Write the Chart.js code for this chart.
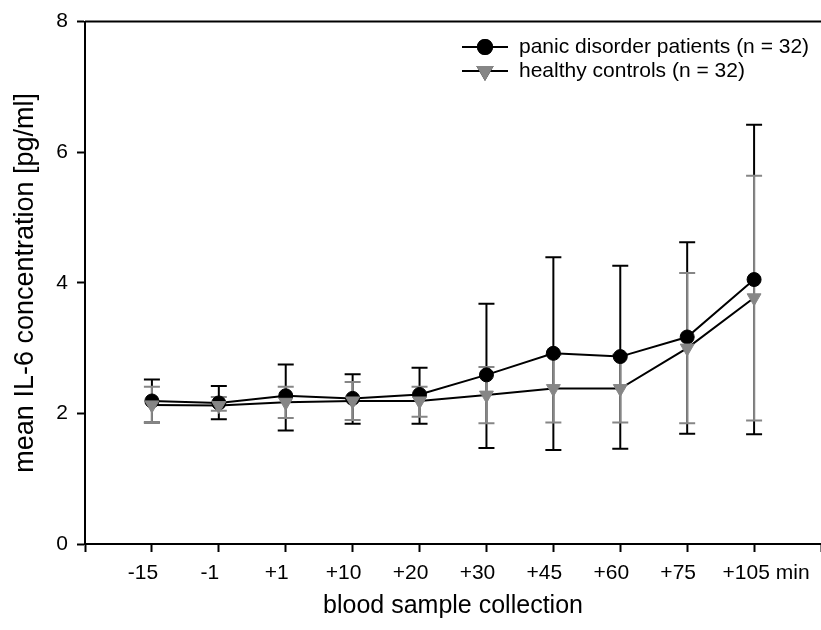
<!DOCTYPE html>
<html>
<head>
<meta charset="utf-8">
<script src="https://cdn.jsdelivr.net/npm/chart.js@4"></script>
<style>
  html, body { margin: 0; padding: 0; background: #fff; }
  #wrap { width: 821px; height: 630px; }
</style>
</head>
<body>
<div id="wrap"><canvas id="chart" width="821" height="630"></canvas></div>
<script>
// blood sample collection times
const sampleLabels = ["-15", "-1", "+1", "+10", "+20", "+30", "+45", "+60", "+75", "+105 min"];

// panic disorder patients (n = 32)
const patientsMean = [2.19, 2.16, 2.27, 2.23, 2.29, 2.59, 2.92, 2.87, 3.17, 4.05];
const patientsHigh = [2.52, 2.42, 2.75, 2.60, 2.70, 3.68, 4.39, 4.26, 4.62, 6.42];
const patientsLow  = [1.86, 1.91, 1.74, 1.84, 1.84, 1.47, 1.44, 1.46, 1.69, 1.68];

// healthy controls (n = 32)
const controlsMean = [2.13, 2.12, 2.17, 2.19, 2.19, 2.28, 2.38, 2.38, 3.00, 3.77];
const controlsHigh = [2.41, 2.25, 2.41, 2.48, 2.41, 2.71, 2.90, 2.90, 4.15, 5.64];
const controlsLow  = [1.86, 2.04, 1.93, 1.90, 1.95, 1.85, 1.86, 1.86, 1.85, 1.89];

const yTicks = [0, 2, 4, 6, 8];

const FONT = 'Arial, "Liberation Sans", sans-serif';
const GRAY = "#868686";

const toPoints = vals => vals.map((v, i) => ({ x: i + 1, y: v }));

const errorBars = {
  id: "errorBars",
  beforeDatasetsDraw(chart) {
    const { ctx, scales: { x, y } } = chart;
    const groups = [
      { high: patientsHigh, low: patientsLow, color: "#000" },
      { high: controlsHigh, low: controlsLow, color: GRAY },
    ];
    ctx.save();
    groups.forEach(g => {
      ctx.strokeStyle = g.color;
      ctx.lineWidth = 2;
      g.high.forEach((hi, i) => {
        const px = x.getPixelForValue(i + 1);
        const pHi = y.getPixelForValue(hi);
        const pLo = y.getPixelForValue(g.low[i]);
        ctx.beginPath();
        ctx.moveTo(px, pHi); ctx.lineTo(px, pLo);
        ctx.moveTo(px - 8, pHi); ctx.lineTo(px + 8, pHi);
        ctx.moveTo(px - 8, pLo); ctx.lineTo(px + 8, pLo);
        ctx.stroke();
      });
    });
    ctx.restore();
  },
};

const frameAndLegend = {
  id: "frameAndLegend",
  afterDraw(chart) {
    const { ctx, chartArea } = chart;
    ctx.save();
    // top frame line
    ctx.strokeStyle = "#000";
    ctx.lineWidth = 2;
    ctx.beginPath();
    ctx.moveTo(chartArea.left, chartArea.top);
    ctx.lineTo(chartArea.right, chartArea.top);
    ctx.stroke();

    // legend
    const rows = [
      { text: "panic disorder patients (n = 32)", y: 47, ds: chart.data.datasets[1] },
      { text: "healthy controls (n = 32)", y: 71, ds: chart.data.datasets[0] },
    ];
    ctx.font = "21px " + FONT;
    ctx.textBaseline = "middle";
    rows.forEach(r => {
      ctx.strokeStyle = "#000";
      ctx.lineWidth = 2;
      ctx.beginPath();
      ctx.moveTo(462, r.y); ctx.lineTo(508, r.y);
      ctx.stroke();
      Chart.helpers.drawPoint(ctx, {
        pointStyle: r.ds.pointStyle,
        rotation: r.ds.pointRotation || 0,
        radius: r.ds.pointRadius,
        borderWidth: 1,
      }, 485, r.y);
      ctx.fillStyle = r.ds.pointBackgroundColor;
      ctx.strokeStyle = r.ds.pointBorderColor;
      ctx.fill();
      ctx.stroke();
      ctx.fillStyle = "#000";
      ctx.fillText(r.text, 519, r.y);
    });
    ctx.restore();
  },
};

new Chart(document.getElementById("chart").getContext("2d"), {
  type: "line",
  data: {
    datasets: [
      {
        label: "healthy controls (n = 32)",
        data: toPoints(controlsMean),
        borderColor: "#000",
        borderWidth: 2,
        pointStyle: "triangle",
        pointRotation: 180,
        pointRadius: 8,
        pointBackgroundColor: GRAY,
        pointBorderColor: GRAY,
        pointBorderWidth: 1,
        order: 0,
      },
      {
        label: "panic disorder patients (n = 32)",
        data: toPoints(patientsMean),
        borderColor: "#000",
        borderWidth: 2,
        pointStyle: "circle",
        pointRadius: 7,
        pointBackgroundColor: "#000",
        pointBorderColor: "#000",
        pointBorderWidth: 1,
        order: 1,
      },
    ],
  },
  options: {
    responsive: false,
    animation: false,
    layout: { autoPadding: false, padding: { top: 16, right: 0, left: 0, bottom: 0 } },
    plugins: { legend: { display: false }, tooltip: { enabled: false } },
    scales: {
      x: {
        type: "linear",
        min: 0,
        max: 11,
        afterFit: s => { s.height = 86; s.paddingRight = 0; s.paddingLeft = 0; },
        afterBuildTicks: s => { s.ticks = Array.from({ length: 12 }, (_, i) => ({ value: i })); },
        ticks: {
          autoSkip: false,
          maxRotation: 0,
          padding: 9,
          labelOffset: -9,
          color: "#000",
          font: { family: FONT, size: 21 },
          // last label sits further right in the original, so pad it on the left
          callback: v => (v === sampleLabels.length ? "\u2002\u2002\u2002\u2002" : "") + (sampleLabels[v - 1] || ""),
        },
        grid: { drawOnChartArea: false, drawTicks: true, tickLength: 8, tickWidth: 2, tickColor: "#000" },
        border: { display: true, color: "#000", width: 2 },
        title: {
          display: true,
          text: "blood sample collection",
          color: "#000",
          font: { family: FONT, size: 25 },
          padding: { top: 0, bottom: 9 },
        },
      },
      y: {
        min: 0,
        max: 8,
        afterFit: s => { s.width = 85; },
        afterBuildTicks: s => { s.ticks = yTicks.map(v => ({ value: v })); },
        ticks: {
          padding: 9,
          color: "#000",
          font: { family: FONT, size: 21 },
        },
        grid: { drawOnChartArea: false, drawTicks: true, tickLength: 8, tickWidth: 2, tickColor: "#000" },
        border: { display: true, color: "#000", width: 2 },
        title: {
          display: true,
          text: "mean IL-6 concentration [pg/ml]",
          color: "#000",
          font: { family: FONT, size: 27 },
          padding: { top: 9, bottom: 0 },
        },
      },
    },
  },
  plugins: [errorBars, frameAndLegend],
});
</script>
</body>
</html>
